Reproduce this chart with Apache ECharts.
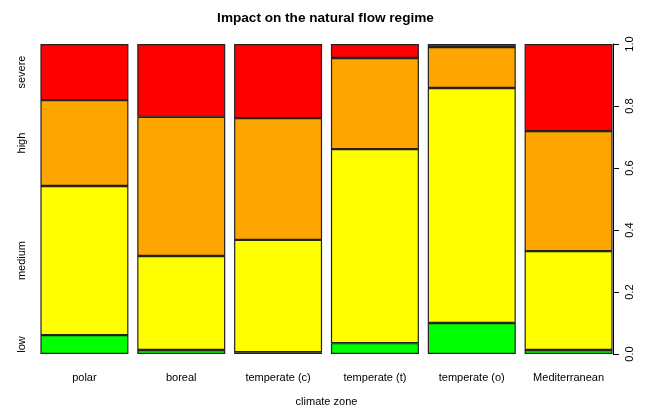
<!DOCTYPE html>
<html><head><meta charset="utf-8">
<script src="https://cdn.jsdelivr.net/npm/echarts@6/dist/echarts.min.js"></script>
<style>html,body{margin:0;padding:0;background:#fff}#c{width:651px;height:412px}</style>
</head><body><div id="c"></div>
<script>
const categories = ['polar','boreal','temperate (c)','temperate (t)','temperate (o)','Mediterranean'];
const levelNames = ['low','medium','high','severe'];
const low    = [0.061, 0.013, 0.006, 0.035, 0.100, 0.013];
const medium = [0.481, 0.303, 0.362, 0.626, 0.758, 0.319];
const high   = [0.277, 0.449, 0.393, 0.294, 0.132, 0.387];
const severe = [0.181, 0.235, 0.239, 0.045, 0.010, 0.281];
const rightTicks = [0, 0.2, 0.4, 0.6, 0.8, 1.0];
const colors = ['#00ff00','#ffff00','#ffa500','#ff0000'];

const seriesData = [low, medium, high, severe];
// label positions on the left: midpoints of the first bar's segments
const mids = [];
let acc = 0;
seriesData.forEach(arr => { mids.push(acc + arr[0]/2); acc += arr[0]; });

const font = 'Liberation Sans, Arial, sans-serif';
const chart = echarts.init(document.getElementById('c'));
chart.setOption({
  animation: false,
  title: {text: 'Impact on the natural flow regime', left: 'center', top: 6,
    textStyle: {fontFamily: font, fontSize: 13.6, fontWeight: 'bold', color: '#000'}},
  grid: {left: 36, right: 34, top: 44, bottom: 58, containLabel: false, outerBoundsMode: 'none'},
  xAxis: {type: 'category', data: categories,
    axisLine: {show: false}, axisTick: {show: false},
    axisLabel: {fontFamily: font, fontSize: 11, color: '#000', margin: 18, interval: 0},
    name: 'climate zone', nameLocation: 'middle', nameGap: 42,
    nameTextStyle: {fontFamily: font, fontSize: 11, color: '#000'}},
  yAxis: [
    {type: 'value', min: 0, max: 1, position: 'right', offset: -4,
      interval: 0.2, splitLine: {show: false},
      axisLine: {show: true, lineStyle: {color: '#000', width: 1}},
      axisTick: {show: true, length: 6, lineStyle: {color: '#000'}},
      axisLabel: {rotate: 90, fontFamily: font, fontSize: 11, color: '#000', margin: 11,
        customValues: rightTicks, formatter: v => v.toFixed(1)}},
    {type: 'value', min: 0, max: 1, position: 'left', splitLine: {show: false},
      axisLine: {show: false}, axisTick: {show: false},
      axisLabel: {rotate: 90, fontFamily: font, fontSize: 11, color: '#000', margin: 9,
        customValues: mids,
        formatter: v => { const i = mids.findIndex(m => Math.abs(m - v) < 1e-6); return i >= 0 ? levelNames[i] : ''; }}}
  ],
  series: seriesData.map((arr, i) => ({
    type: 'bar', name: levelNames[i], stack: 'total', data: arr, barWidth: 88,
    yAxisIndex: 0,
    itemStyle: {color: colors[i], borderColor: '#222', borderWidth: 1.2}
  }))
});
</script></body></html>
